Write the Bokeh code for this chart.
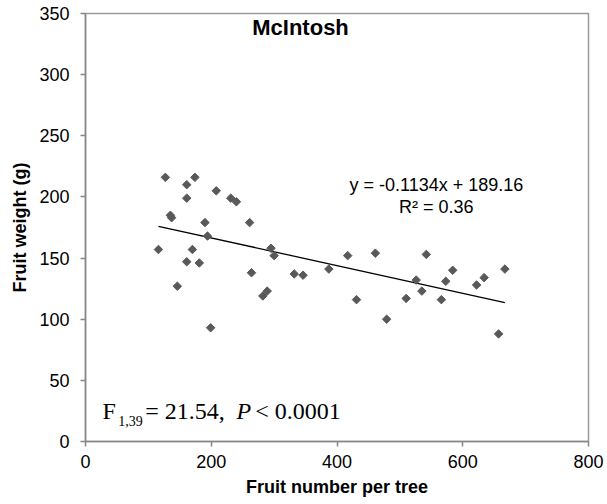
import numpy as np
from bokeh.plotting import figure
from bokeh.models import Label, ColumnDataSource, FixedTicker
from bokeh.embed import file_html
from bokeh.resources import INLINE

# Data
fruit_number = [127, 161, 174, 161, 208, 231, 240, 135, 137, 190, 261, 194,
                116, 170, 161, 181, 295, 300, 264, 332, 146, 289, 282, 199,
                346, 387, 417, 461, 431, 479, 510, 526, 535, 542, 566, 573,
                584, 622, 634, 667, 657]
fruit_weight = [216, 210, 216, 199, 205, 199, 196, 185, 183, 179, 179, 168,
                157, 157, 147, 146, 158, 152, 138, 137, 127, 123, 119, 93,
                136, 141, 152, 154, 116, 100, 117, 132, 123, 153, 116, 131,
                140, 128, 134, 141, 88]
slope = -0.1134
intercept = 189.16
x_ticks = [0, 200, 400, 600, 800]
y_ticks = [0, 50, 100, 150, 200, 250, 300, 350]

src = ColumnDataSource(dict(x=fruit_number, y=fruit_weight))

p = figure(width=607, height=504, output_backend="svg", toolbar_location=None,
           x_range=(0, 800), y_range=(0, 350),
           frame_width=503, frame_height=428,
           min_border_left=85, min_border_right=19, min_border_top=13, min_border_bottom=63)
p.background_fill_color = "white"
p.border_fill_color = "white"
p.outline_line_color = "#9a9a9a"
p.outline_line_width = 1.5
p.xgrid.visible = False
p.ygrid.visible = False

for ax in (p.xaxis[0], p.yaxis[0]):
    ax.axis_line_color = "#868686"
    ax.axis_line_width = 1.5
    ax.major_tick_line_color = "#868686"
    ax.major_tick_line_width = 1.5
    ax.major_tick_in = 0
    ax.major_tick_out = 5
    ax.minor_tick_line_color = None
    ax.major_label_text_font = "Liberation Sans"
    ax.major_label_text_font_size = "18px"
    ax.major_label_text_color = "black"
    ax.axis_label_text_font = "Liberation Sans"
    ax.axis_label_text_font_style = "bold"
    ax.axis_label_text_font_size = "18px"
    ax.axis_label_text_color = "black"

p.xaxis.ticker = FixedTicker(ticks=x_ticks)
p.yaxis.ticker = FixedTicker(ticks=y_ticks)
p.xaxis.axis_label = "Fruit number per tree"
p.yaxis.axis_label = "Fruit weight (g)"
p.xaxis.major_label_standoff = 8
p.yaxis.major_label_standoff = 11
p.xaxis.axis_label_standoff = 6
p.yaxis.axis_label_standoff = 6

# trend line
xl = np.array([min(fruit_number), max(fruit_number)], dtype=float)
p.line(xl, slope * xl + intercept, line_color="black", line_width=1.3)

p.scatter("x", "y", source=src, marker="square", angle=np.pi / 4, size=6,
          fill_color="#595959", line_color="#595959")

p.add_layout(Label(x=342, y=328, text="McIntosh", text_align="center",
                   text_font="Liberation Sans", text_font_style="bold",
                   text_font_size="22px", text_color="black"))
p.add_layout(Label(x=558, y=201.5, text="y = -0.1134x + 189.16", text_align="center",
                   text_font="Liberation Sans", text_font_size="18px", text_color="black"))
p.add_layout(Label(x=558, y=183.5, text="R\u00b2 = 0.36", text_align="center",
                   text_font="Liberation Sans", text_font_size="18px", text_color="black"))

serif = "Liberation Serif"
p.add_layout(Label(x=27, y=14.5, text="F", text_font=serif, text_font_size="24px", text_color="black"))
p.add_layout(Label(x=52, y=12.3, text="1,39", text_font=serif, text_font_size="14px", text_color="black"))
p.add_layout(Label(x=95, y=14.5, text="= 21.54,", text_font=serif, text_font_size="24px", text_color="black"))
p.add_layout(Label(x=240, y=14.5, text="P", text_font=serif, text_font_style="italic",
                   text_font_size="24px", text_color="black"))
p.add_layout(Label(x=270, y=14.5, text="< 0.0001", text_font=serif, text_font_size="24px", text_color="black"))

open("out.html", "w").write(file_html(p, INLINE))
